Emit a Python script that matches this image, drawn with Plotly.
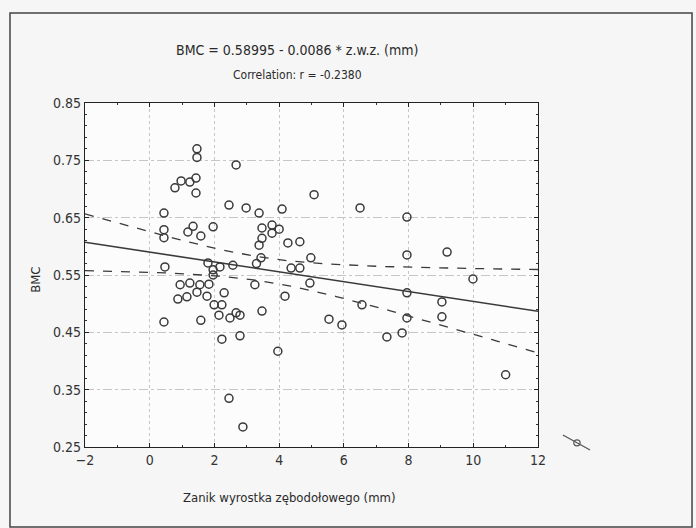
import numpy as np
import plotly.graph_objects as go

# ---- data ----
zwz_mm = [1.46, 1.46, 2.67, 0.78, 0.97, 1.24, 1.43, 1.43, 0.44, 2.45,
          2.98, 3.38, 1.96, 0.44, 0.44, 1.18, 1.34, 1.58, 0.47, 1.80,
          1.96, 1.96, 2.17, 2.57, 0.94, 1.24, 1.55, 1.83, 0.87, 1.15,
          1.46, 1.77, 2.30, 1.99, 2.23, 2.14, 2.48, 2.67, 2.79, 0.44,
          1.58, 2.23, 2.79, 2.45, 2.88, 5.08, 4.09, 6.50, 3.47, 3.78,
          4.00, 3.78, 3.47, 3.38, 4.27, 4.64, 3.44, 4.98, 4.37, 4.64,
          4.95, 4.18, 3.47, 5.54, 5.94, 6.56, 3.96, 7.95, 7.95, 9.19,
          9.99, 7.95, 9.03, 7.33, 7.80, 7.95, 9.03, 11.00, 3.30, 3.25]
bmc = [0.770, 0.755, 0.742, 0.702, 0.714, 0.712, 0.719, 0.693, 0.658, 0.672,
       0.667, 0.658, 0.634, 0.629, 0.615, 0.625, 0.635, 0.618, 0.564, 0.571,
       0.559, 0.550, 0.564, 0.567, 0.533, 0.536, 0.533, 0.534, 0.508, 0.512,
       0.520, 0.513, 0.519, 0.498, 0.498, 0.480, 0.475, 0.484, 0.480, 0.468,
       0.471, 0.438, 0.444, 0.335, 0.285, 0.690, 0.665, 0.667, 0.632, 0.637,
       0.630, 0.623, 0.614, 0.602, 0.606, 0.608, 0.580, 0.580, 0.562, 0.562,
       0.536, 0.513, 0.487, 0.473, 0.463, 0.498, 0.417, 0.651, 0.585, 0.590,
       0.543, 0.519, 0.503, 0.442, 0.449, 0.475, 0.477, 0.376, 0.570, 0.533]

intercept = 0.58995
slope = -0.0086
t_crit = 1.99

x_ticks = [-2, 0, 2, 4, 6, 8, 10, 12]
y_ticks = [0.25, 0.35, 0.45, 0.55, 0.65, 0.75, 0.85]

title_1 = "BMC = 0.58995 - 0.0086 * z.w.z. (mm)"
title_2 = "Correlation: r = -0.2380"
x_title = "Zanik wyrostka zębodołowego (mm)"
y_title = "BMC"

# ---- regression line and 95% confidence band ----
xa = np.array(zwz_mm)
ya = np.array(bmc)
n = len(xa)
resid = ya - (intercept + slope * xa)
s = np.sqrt(np.sum(resid ** 2) / (n - 2))
xm = xa.mean()
sxx = np.sum((xa - xm) ** 2)
xl = np.linspace(x_ticks[0], x_ticks[-1], 120)
yl = intercept + slope * xl
hw = t_crit * s * np.sqrt(1.0 / n + (xl - xm) ** 2 / sxx)

FONT = "Liberation Sans Narrow, Arial Narrow, DejaVu Sans Condensed, sans-serif"
INK = "#3a3a3a"

fig = go.Figure()
fig.add_trace(go.Scatter(x=xl, y=yl + hw, mode="lines",
                         line=dict(color=INK, width=1.3, dash="dash"),
                         hoverinfo="skip", showlegend=False))
fig.add_trace(go.Scatter(x=xl, y=yl - hw, mode="lines",
                         line=dict(color=INK, width=1.3, dash="dash"),
                         hoverinfo="skip", showlegend=False))
fig.add_trace(go.Scatter(x=xl, y=yl, mode="lines",
                         line=dict(color=INK, width=1.6),
                         hoverinfo="skip", showlegend=False))
fig.add_trace(go.Scatter(x=zwz_mm, y=bmc, mode="markers",
                         marker=dict(symbol="circle-open", size=8,
                                     color=INK, line=dict(width=1.5, color=INK)),
                         showlegend=False))

axis_common = dict(showline=True, linecolor="#222", linewidth=1.3, mirror="ticks",
                   ticks="inside", ticklen=4, tickcolor="#222",
                   showgrid=True, gridcolor="#c6c6c6", gridwidth=1,
                   zeroline=False,
                   tickfont=dict(family=FONT, size=14, color="#333"))

fig.update_xaxes(range=[x_ticks[0], x_ticks[-1]], tickvals=x_ticks,
                 griddash="dot",
                 minor=dict(dtick=1, ticks="inside", ticklen=2, tickcolor="#333", showgrid=False),
                 **axis_common)
fig.update_yaxes(range=[y_ticks[0], y_ticks[-1]], tickvals=y_ticks,
                 ticktext=[f"{v:.2f}" for v in y_ticks],
                 griddash="dashdot",
                 minor=dict(dtick=0.02, tick0=0.25, ticks="inside", ticklen=2, tickcolor="#333", showgrid=False),
                 **axis_common)

fig.add_annotation(text=title_1, x=0.468, y=1.183, xref="paper", yref="paper",
                   showarrow=False, font=dict(family=FONT, size=14, color="#2a2a2a"))
fig.add_annotation(text=title_2, x=0.468, y=1.108, xref="paper", yref="paper",
                   showarrow=False, font=dict(family=FONT, size=12, color="#2a2a2a"))
fig.add_annotation(text=x_title, x=0.452, y=-0.174, xref="paper", yref="paper",
                   showarrow=False, font=dict(family=FONT, size=13, color="#2a2a2a"))
fig.add_annotation(text=y_title, x=-0.132, y=0.485, xref="paper", yref="paper",
                   showarrow=False, textangle=-90, font=dict(family=FONT, size=13, color="#2a2a2a"))

# outer panel frame
fig.add_shape(type="rect", xref="paper", yref="paper",
              x0=-0.1656, x1=1.34, y0=-0.2326, y1=1.2616,
              line=dict(color="#444", width=1.5), fillcolor="rgba(0,0,0,0)", layer="below")
# small pen mark to the right of the plot
fig.add_shape(type="line", xref="paper", yref="paper",
              x0=1.055, y0=0.035, x1=1.115, y1=-0.009,
              line=dict(color="#555", width=1.2))
fig.add_shape(type="circle", xref="paper", yref="paper",
              x0=1.079, y0=0.003, x1=1.093, y1=0.021,
              line=dict(color="#555", width=1.2))

fig.update_layout(width=696, height=528,
                  margin=dict(l=85, r=158, t=103, b=81),
                  paper_bgcolor="#f6f6f6", plot_bgcolor="#fcfcfc",
                  showlegend=False)

fig.write_html("out.html")
